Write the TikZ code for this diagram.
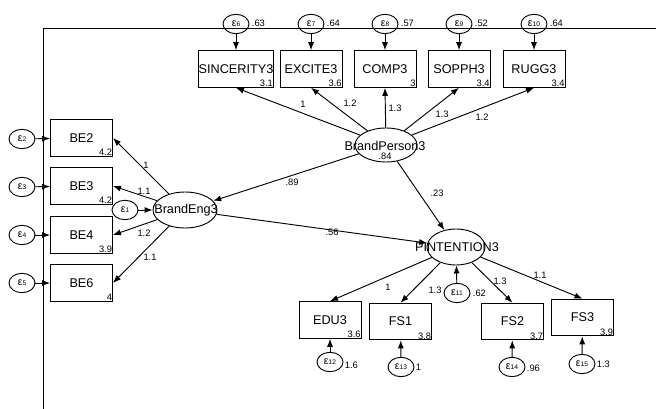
\documentclass[tikz,border=0pt]{standalone}
\usepackage{fontspec}
\setmainfont{Liberation Sans}
\usetikzlibrary{shapes.geometric}
\usetikzlibrary{arrows.meta}

\newcommand{\eps}[1]{{\fontsize{8}{8}\selectfont ε}{\fontsize{5}{5}\selectfont #1}}

\begin{document}
\begin{tikzpicture}[x=0.75pt, y=-0.75pt,
	box/.style={draw, line width=0.7pt, minimum width=46.5pt, minimum height=27.5pt, inner sep=0pt, font=\fontsize{9.5}{9.5}\selectfont},
	lat/.style={draw, ellipse, line width=0.7pt, inner sep=0pt},
	err/.style={draw, ellipse, line width=0.7pt, minimum width=19.5pt, minimum height=14.5pt, inner sep=0pt},
	num/.style={font=\fontsize{7}{7}\selectfont, inner sep=0.5pt},
	latname/.style={font=\fontsize{9.5}{9.5}\selectfont, inner sep=0pt},
	arr/.style={->, line width=0.7pt},
	>={Latex[length=6pt, width=4.5pt]}]
	\useasboundingbox (0,0) rectangle (656,409);

	% frame
	\coordinate (c0) at (43,28);
	\coordinate (c1) at (656,28);
	\coordinate (c2) at (43,409);
	\draw [line width=0.7pt] (c1) -- (c0) -- (c2);

	% latent variables
	\node (BP) [lat, minimum width=46.5pt, minimum height=25.5pt] at (386,145) {};
	\node (BPt) [latname] at (385,146) {BrandPerson3};
	\node (BPv) [num] at (385,156) {.84};
	\node (BE) [lat, minimum width=48pt, minimum height=27pt] at (185,210) {};
	\node (BEt) [latname] at (186,210) {BrandEng3};
	\node (PI) [lat, minimum width=43.5pt, minimum height=27pt] at (456,247) {};
	\node (PIt) [latname] at (457,247) {PINTENTION3};

	% top indicators
	\node (sinc) [box] at (236,69) {SINCERITY3};
	\node (exci) [box] at (311,69) {EXCITE3};
	\node (comp) [box] at (385,69) {COMP3};
	\node (soph) [box] at (459,69) {SOPPH3};
	\node (rugg) [box] at (534,69) {RUGG3};
	\node (msinc) [num, anchor=south east] at (sinc.south east) {3.1};
	\node (mexci) [num, anchor=south east] at (exci.south east) {3.6};
	\node (mcomp) [num, anchor=south east] at (comp.south east) {3};
	\node (msoph) [num, anchor=south east] at (soph.south east) {3.4};
	\node (mrugg) [num, anchor=south east] at (rugg.south east) {3.4};

	\node (e6) [err] at (236,24) {\eps{6}};
	\node (e7) [err] at (311,24) {\eps{7}};
	\node (e8) [err] at (385,24) {\eps{8}};
	\node (e9) [err] at (459,24) {\eps{9}};
	\node (e10) [err] at (534,24) {\eps{10}};
	\node (v6) [num, anchor=west] at (251,23) {.63};
	\node (v7) [num, anchor=west] at (326,23) {.64};
	\node (v8) [num, anchor=west] at (400,23) {.57};
	\node (v9) [num, anchor=west] at (474,23) {.52};
	\node (v10) [num, anchor=west] at (549,23) {.64};

	% left indicators
	\node (be2) [box] at (81.5,138) {BE2};
	\node (be3) [box] at (81.5,186) {BE3};
	\node (be4) [box] at (81.5,235) {BE4};
	\node (be6) [box] at (81.5,283) {BE6};
	\node (mbe2) [num, anchor=south east] at (be2.south east) {4.2};
	\node (mbe3) [num, anchor=south east] at (be3.south east) {4.2};
	\node (mbe4) [num, anchor=south east] at (be4.south east) {3.9};
	\node (mbe6) [num, anchor=south east] at (be6.south east) {4};

	\node (e2) [err] at (22,139) {\eps{2}};
	\node (e3) [err] at (22,187) {\eps{3}};
	\node (e4) [err] at (22,235) {\eps{4}};
	\node (e5) [err] at (22,283) {\eps{5}};
	\node (e1) [err] at (125,210) {\eps{1}};

	% bottom indicators
	\node (edu) [box] at (330,320) {EDU3};
	\node (fs1) [box] at (400.5,321.5) {FS1};
	\node (fs2) [box] at (512.5,321.5) {FS2};
	\node (fs3) [box] at (582.5,317.5) {FS3};
	\node (medu) [num, anchor=south east] at (edu.south east) {3.6};
	\node (mfs1) [num, anchor=south east] at (fs1.south east) {3.8};
	\node (mfs2) [num, anchor=south east] at (fs2.south east) {3.7};
	\node (mfs3) [num, anchor=south east] at (fs3.south east) {3.9};

	\node (e11) [err] at (457,293) {\eps{11}};
	\node (e12) [err] at (330,362) {\eps{12}};
	\node (e13) [err] at (401,367) {\eps{13}};
	\node (e14) [err] at (512,367) {\eps{14}};
	\node (e15) [err] at (582,364) {\eps{15}};
	\node (v11) [num, anchor=west] at (472,293) {.62};
	\node (v12) [num, anchor=west] at (344,365) {1.6};
	\node (v13) [num, anchor=west] at (415,367) {1};
	\node (v14) [num, anchor=west] at (526,368) {.96};
	\node (v15) [num, anchor=west] at (596,364) {1.3};

	% error paths
	\draw [arr] (e6) -- (sinc);
	\draw [arr] (e7) -- (exci);
	\draw [arr] (e8) -- (comp);
	\draw [arr] (e9) -- (soph);
	\draw [arr] (e10) -- (rugg);
	\draw [arr] (e2) -- (be2);
	\draw [arr] (e3) -- (be3);
	\draw [arr] (e4) -- (be4);
	\draw [arr] (e5) -- (be6);
	\draw [arr] (e1) -- (BE);
	\draw [arr] (e11) -- (PI);
	\draw [arr] (e12) -- (edu);
	\draw [arr] (e13) -- (fs1);
	\draw [arr] (e14) -- (fs2);
	\draw [arr] (e15) -- (fs3);

	% loadings
	\draw [arr] (BP) -- (sinc.south);
	\draw [arr] (BP) -- (exci.south);
	\draw [arr] (BP) -- (comp.south);
	\draw [arr] (BP) -- (soph.south);
	\draw [arr] (BP) -- (rugg.south);
	\draw [arr] (BE) -- (be2.east);
	\draw [arr] (BE) -- (be3.east);
	\draw [arr] (BE) -- (be4.east);
	\draw [arr] (BE) -- (be6.east);
	\draw [arr] (PI) -- (edu.north);
	\draw [arr] (PI) -- (fs1.north);
	\draw [arr] (PI) -- (fs2.north);
	\draw [arr] (PI) -- (fs3.north);

	% structural paths
	\draw [arr] (BP) -- (BE);
	\draw [arr] (BP) -- (PI);
	\draw [arr] (BE) -- (PI);

	% coefficients
	\node (l1) [num] at (303,104) {1};
	\node (l2) [num] at (350,103) {1.2};
	\node (l3) [num] at (395,108) {1.3};
	\node (l4) [num] at (442,114) {1.3};
	\node (l5) [num] at (482,117) {1.2};
	\node (l6) [num] at (146,165) {1};
	\node (l7) [num] at (144,191) {1.1};
	\node (l8) [num] at (144,233) {1.2};
	\node (l9) [num] at (150,257) {1.1};
	\node (l10) [num] at (388,287) {1};
	\node (l11) [num] at (435,290) {1.3};
	\node (l12) [num] at (500,281) {1.3};
	\node (l13) [num] at (540,275) {1.1};
	\node (s1) [num] at (292,182) {.89};
	\node (s2) [num] at (437,193) {.23};
	\node (s3) [num] at (332,232) {.56};

\end{tikzpicture}
\end{document}
